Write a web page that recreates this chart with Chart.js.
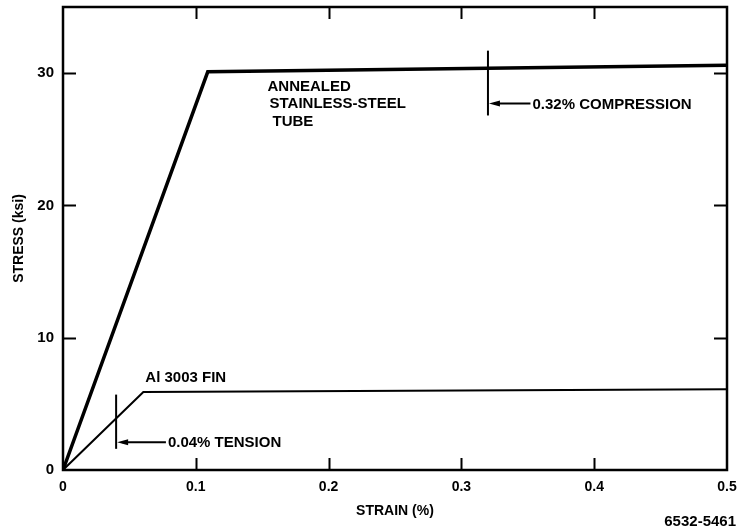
<!DOCTYPE html>
<html>
<head>
<meta charset="utf-8">
<script src="https://cdn.jsdelivr.net/npm/chart.js@4/dist/chart.umd.min.js"></script>
<style>
  html, body { margin: 0; padding: 0; background: #ffffff; }
  #wrap { width: 742px; height: 531px; }
</style>
</head>
<body>
<div id="wrap"><canvas id="c" width="742" height="531"></canvas></div>
<script>
// Stress–strain curves (strain in %, stress in ksi)
const steelStrain = [0, 0.109, 0.5];
const steelStress = [0, 30.1, 30.6];
const finStrain = [0, 0.0605, 0.5];
const finStress = [0, 5.9, 6.1];

// Axis ticks
const xTicks = [0, 0.1, 0.2, 0.3, 0.4, 0.5];
const yTicks = [0, 10, 20, 30];

// Strain markers: position, vertical extent, arrow height, arrow end, label
const markerStrain = [0.32, 0.04];
const markerLow = [26.8, 1.6];
const markerHigh = [31.7, 5.7];
const markerArrowY = [27.7, 2.1];
const markerArrowEnd = [0.352, 0.0775];
const markerLabels = ['0.32% COMPRESSION', '0.04% TENSION'];

// Curve captions: text lines, anchor strain/stress
const steelCaption = ['ANNEALED', 'STAINLESS-STEEL', 'TUBE'];
const steelCaptionPos = [0.154, 29.0];
const steelCaptionIndent = [0, 2, 5];
const finCaption = ['Al 3003 FIN'];
const finCaptionPos = [0.062, 7.0];

const FONT = '"Liberation Sans", Arial, Helvetica, sans-serif';

function pts(xs, ys) { return xs.map((x, i) => ({ x: x, y: ys[i] })); }

const framePlugin = {
  id: 'frameAndNotes',
  afterDatasetsDraw(chart) {
    const ctx = chart.ctx;
    const xs = chart.scales.x, ys = chart.scales.y;
    const a = chart.chartArea;
    ctx.save();
    ctx.strokeStyle = '#000';
    ctx.fillStyle = '#000';
    ctx.lineCap = 'butt';

    // frame
    ctx.lineWidth = 2.5;
    ctx.strokeRect(a.left, a.top, a.right - a.left, a.bottom - a.top);

    // inward ticks on all four sides
    ctx.lineWidth = 2;
    const tl = 12;
    xTicks.forEach(v => {
      const px = Math.round(xs.getPixelForValue(v)) + 0.5;
      if (v === xTicks[0] || v === xTicks[xTicks.length - 1]) return;
      ctx.beginPath();
      ctx.moveTo(px, a.bottom); ctx.lineTo(px, a.bottom - tl);
      ctx.moveTo(px, a.top); ctx.lineTo(px, a.top + tl);
      ctx.stroke();
    });
    yTicks.forEach(v => {
      if (v === yTicks[0]) return;
      const py = Math.round(ys.getPixelForValue(v)) + 0.5;
      ctx.beginPath();
      ctx.moveTo(a.left, py); ctx.lineTo(a.left + tl + 1, py);
      ctx.moveTo(a.right, py); ctx.lineTo(a.right - tl - 1, py);
      ctx.stroke();
    });

    // strain markers with arrows
    markerStrain.forEach((s, i) => {
      const px = xs.getPixelForValue(s);
      const y0 = ys.getPixelForValue(markerLow[i]);
      const y1 = ys.getPixelForValue(markerHigh[i]);
      const ay = ys.getPixelForValue(markerArrowY[i]);
      const ax = xs.getPixelForValue(markerArrowEnd[i]);
      ctx.lineWidth = 2;
      ctx.beginPath();
      ctx.moveTo(px, y0); ctx.lineTo(px, y1);
      ctx.stroke();
      ctx.beginPath();
      ctx.moveTo(px + 6, ay); ctx.lineTo(ax, ay);
      ctx.stroke();
      ctx.beginPath();
      ctx.moveTo(px + 1, ay);
      ctx.lineTo(px + 12, ay - 3);
      ctx.lineTo(px + 12, ay + 3);
      ctx.closePath();
      ctx.fill();
      ctx.font = 'bold 15px ' + FONT;
      ctx.textAlign = 'left';
      ctx.textBaseline = 'middle';
      ctx.fillText(markerLabels[i], ax + 2, ay + 1);
    });

    // curve captions
    ctx.font = 'bold 15px ' + FONT;
    ctx.textAlign = 'left';
    ctx.textBaseline = 'middle';
    const sx = xs.getPixelForValue(steelCaptionPos[0]);
    const sy = ys.getPixelForValue(steelCaptionPos[1]);
    steelCaption.forEach((t, i) => {
      ctx.fillText(t, sx + steelCaptionIndent[i], sy + i * 17.5);
    });
    const fx = xs.getPixelForValue(finCaptionPos[0]);
    const fy = ys.getPixelForValue(finCaptionPos[1]);
    finCaption.forEach((t, i) => ctx.fillText(t, fx, fy + i * 17.5));

    // figure number
    ctx.font = 'bold 15px ' + FONT;
    ctx.textAlign = 'right';
    ctx.fillText('6532-5461', 736, 522);
    ctx.restore();
  }
};

new Chart(document.getElementById('c'), {
  type: 'scatter',
  data: {
    datasets: [
      {
        label: 'Annealed stainless-steel tube',
        data: pts(steelStrain, steelStress),
        showLine: true,
        borderColor: '#000',
        borderWidth: 3.5,
        pointRadius: 0,
        tension: 0,
        borderJoinStyle: 'miter'
      },
      {
        label: 'Al 3003 fin',
        data: pts(finStrain, finStress),
        showLine: true,
        borderColor: '#000',
        borderWidth: 2,
        pointRadius: 0,
        tension: 0,
        borderJoinStyle: 'miter'
      }
    ]
  },
  options: {
    responsive: false,
    animation: false,
    devicePixelRatio: 1,
    layout: { padding: { top: 7, right: 15, left: 0, bottom: 0 } },
    plugins: {
      legend: { display: false },
      tooltip: { enabled: false }
    },
    scales: {
      x: {
        type: 'linear',
        min: 0, max: 0.5,
        afterBuildTicks: s => { s.ticks = xTicks.map(v => ({ value: v })); },
        afterFit: s => { s.height = 61; s.paddingLeft = 0; s.paddingRight = 0; },
        grid: { display: false, drawTicks: false },
        border: { display: false },
        ticks: {
          color: '#000',
          padding: 9,
          font: { family: FONT, size: 14, weight: 'bold' },
          callback: v => String(v)
        },
        title: {
          display: true,
          text: 'STRAIN (%)',
          color: '#000',
          font: { family: FONT, size: 14, weight: 'bold' },
          padding: { top: 0, bottom: 11 }
        }
      },
      y: {
        type: 'linear',
        min: 0, max: 35,
        afterBuildTicks: s => { s.ticks = yTicks.map(v => ({ value: v })); },
        afterFit: s => { s.width = 63; s.paddingTop = 0; s.paddingBottom = 0; },
        grid: { display: false, drawTicks: false },
        border: { display: false },
        ticks: {
          color: '#000',
          padding: 9,
          font: { family: FONT, size: 15, weight: 'bold' },
          callback: v => String(v)
        },
        title: {
          display: true,
          text: 'STRESS (ksi)',
          color: '#000',
          font: { family: FONT, size: 14, weight: 'bold' },
          padding: { top: 11, bottom: 0 }
        }
      }
    }
  },
  plugins: [framePlugin]
});
</script>
</body>
</html>
